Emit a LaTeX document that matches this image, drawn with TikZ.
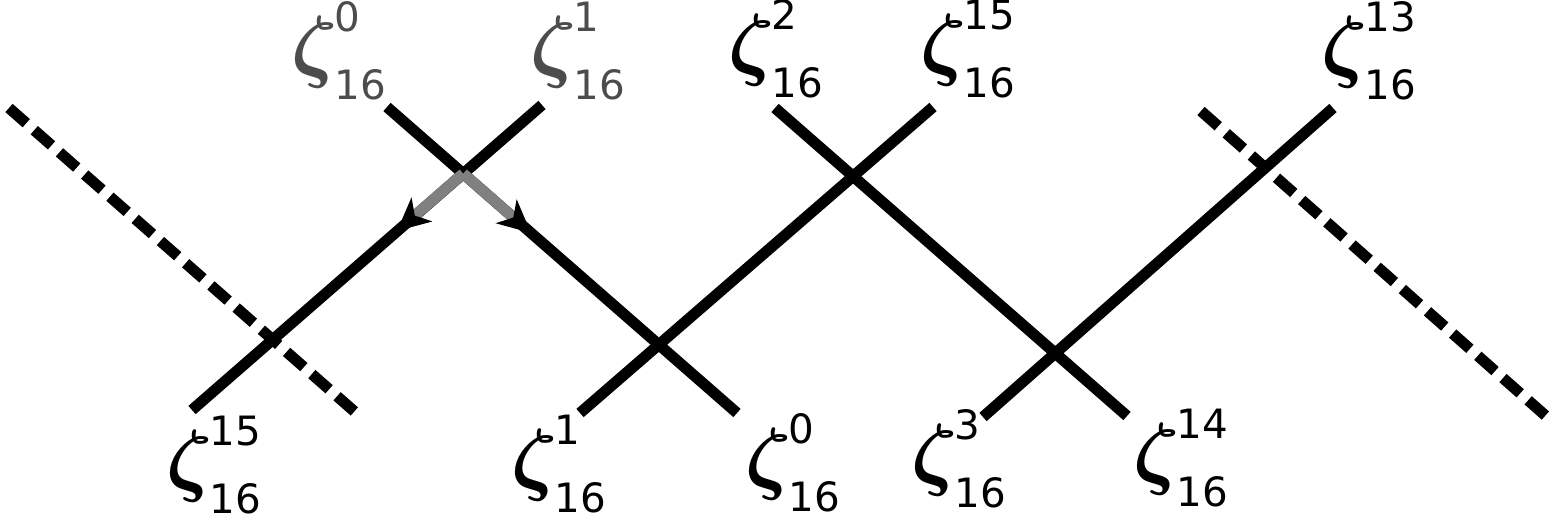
\documentclass[tikz,border=0pt]{standalone}
\usepackage{fontspec}
\setmainfont{DejaVu Sans}
\usepackage{graphicx}
\usetikzlibrary{arrows.meta}
\newcommand\zl[2]{\scalebox{4.6}{\normalsize\boldmath$\zeta$}\hspace{-1.5pt}\rlap{\raisebox{22.8pt}{#1}}\raisebox{-15.4pt}{#2}}

\begin{document}
\begin{tikzpicture}[x=0.02cm, y=-0.02cm, font=\fontsize{23}{23}\selectfont,
		wire/.style={line width=0.22cm},
		dashwire/.style={line width=0.22cm, dash pattern=on 0.46cm off 0.212cm},
		lab/.style={inner sep=0pt, anchor=base west},
		greylab/.style={lab, text=black!70},
		tip/.style={-{Stealth[black, length=0.65cm, width=0.62cm, inset=0.18cm]}}]
	
	\useasboundingbox (0,0) rectangle (1551,514);
	
	% Nodes
	\node[greylab] (t0) at (291,72) {\zl{0}{16}};
	\node[greylab] (t1) at (530,72) {\zl{1}{16}};
	\node[lab] (t2) at (728,70) {\zl{2}{16}};
	\node[lab] (t15) at (920,70) {\zl{15}{16}};
	\node[lab] (t13) at (1321,72) {\zl{13}{16}};
	
	\node[lab] (b15) at (166,486) {\zl{15}{16}};
	\node[lab] (b1) at (511,485) {\zl{1}{16}};
	\node[lab] (b0) at (745,484) {\zl{0}{16}};
	\node[lab] (b3) at (911,480) {\zl{3}{16}};
	\node[lab] (b14) at (1133,479) {\zl{14}{16}};
	
	% Line ends
	\coordinate (a1) at (387,107); \coordinate (a2) at (737,413);
	\coordinate (b1) at (542,105); \coordinate (b2) at (192,410);
	\coordinate (c1) at (933,107); \coordinate (c2) at (580,413);
	\coordinate (d1) at (775,108); \coordinate (d2) at (1127,416);
	\coordinate (e1) at (1333,108); \coordinate (e2) at (983,417);
	\coordinate (l1) at (9,108); \coordinate (l2) at (355,412);
	\coordinate (r1) at (1201,111); \coordinate (r2) at (1547,417);
	\coordinate (ta) at (531,233); \coordinate (tb) at (397,231);
	
	% Lines
	\draw[dashwire] (l1) -- (l2);
	\draw[dashwire] (r1) -- (r2);
	\draw[wire] (a1) -- (a2);
	\draw[wire] (b1) -- (b2);
	\draw[wire] (c1) -- (c2);
	\draw[wire] (d1) -- (d2);
	\draw[wire] (e1) -- (e2);
	
	% Arrows
	\coordinate (x1) at (intersection of a1--a2 and b1--b2);
	\draw[wire, gray, tip] (x1) -- (ta);
	\draw[wire, gray, tip] (x1) -- (tb);
	
\end{tikzpicture}
\end{document}
